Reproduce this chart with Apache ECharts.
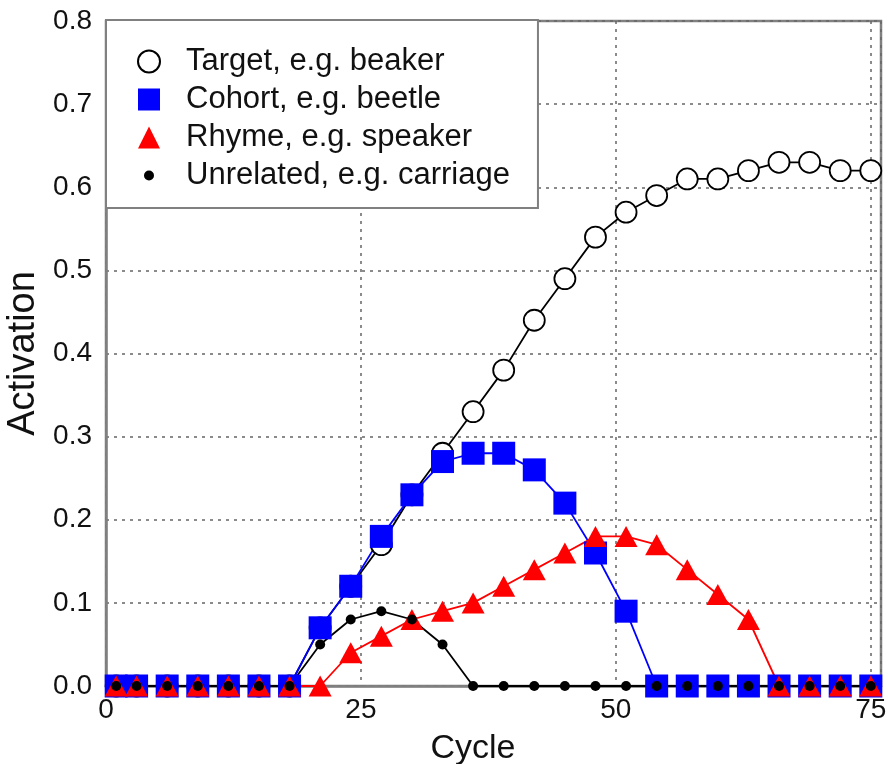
<!DOCTYPE html>
<html>
<head>
<meta charset="utf-8">
<script src="https://cdn.jsdelivr.net/npm/echarts@6/dist/echarts.min.js"></script>
<style>
html,body{margin:0;padding:0;background:#fff;}
#c{width:888px;height:764px;}
</style>
</head>
<body>
<div id="c"></div>
<script>
const cycles = [1,3,6,9,12,15,18,21,24,27,30,33,36,39,42,45,48,51,54,57,60,63,66,69,72,75];
const target = [0,0,0,0,0,0,0,0.07,0.12,0.17,0.23,0.28,0.33,0.38,0.44,0.49,0.54,0.57,0.59,0.61,0.61,0.62,0.63,0.63,0.62,0.62];
const cohort = [0,0,0,0,0,0,0,0.07,0.12,0.18,0.23,0.27,0.28,0.28,0.26,0.22,0.16,0.09,0,0,0,0,0,0,0,0];
const rhyme = [0,0,0,0,0,0,0,0,0.04,0.06,0.08,0.09,0.10,0.12,0.14,0.16,0.18,0.18,0.17,0.14,0.11,0.08,0,0,0,0];
const unrelated = [0,0,0,0,0,0,0,0.05,0.08,0.09,0.08,0.05,0,0,0,0,0,0,0,0,0,0,0,0,0,0];
const seriesNames = ['Target, e.g. beaker','Cohort, e.g. beetle','Rhyme, e.g. speaker','Unrelated, e.g. carriage'];
const xTicks = [0,25,50,75];
const yTicks = [0,0.1,0.2,0.3,0.4,0.5,0.6,0.7,0.8];

const pairs = arr => cycles.map((c,i)=>[c, arr[i]]);
const FONT = "'Liberation Sans', Arial, Helvetica, sans-serif";
const chart = echarts.init(document.getElementById('c'), null, {renderer:'canvas'});
const gridLine = {show:true, lineStyle:{color:'#666', width:1.5, type:[3,5]}};

chart.setOption({
  animation:false,
  backgroundColor:'#fff',
  grid:{left:106, right:7, top:21, bottom:78, show:true, borderColor:'#808080', borderWidth:2.5, backgroundColor:'transparent', outerBoundsMode:'none', containLabel:false},
  xAxis:{
    type:'value', min:0, max:76, interval:25,
    name:'Cycle', nameLocation:'middle', nameGap:46,
    nameTextStyle:{fontFamily:FONT, fontSize:34, color:'#111', padding:[0,41,0,0]},
    axisLine:{show:true, lineStyle:{color:'#808080', width:2.5}},
    axisTick:{show:false},
    axisLabel:{fontFamily:FONT, fontSize:28, color:'#111', margin:10,
      formatter:v=>xTicks.includes(v)?String(v):''},
    splitLine:gridLine
  },
  yAxis:{
    type:'value', min:0, max:0.8, interval:0.1,
    name:'Activation', nameLocation:'middle', nameGap:55,
    nameTextStyle:{fontFamily:FONT, fontSize:38, color:'#111'},
    axisLine:{show:true, lineStyle:{color:'#808080', width:2.5}},
    axisTick:{show:false},
    axisLabel:{fontFamily:FONT, fontSize:28, color:'#111', margin:14,
      formatter:v=>{const t=yTicks.find(y=>Math.abs(y-v)<1e-9);return t===undefined?'':t.toFixed(1);}},
    splitLine:gridLine
  },
  legend:{
    orient:'vertical', left:106, top:20,
    backgroundColor:'#fff', borderColor:'#808080', borderWidth:2,
    padding:[26,28,17,31], itemGap:7, itemWidth:22, itemHeight:22,
    textStyle:{fontFamily:FONT, fontSize:31, color:'#111', padding:[0,0,0,21], lineHeight:31},
    data:[
      {name:seriesNames[0], icon:'circle', itemStyle:{color:'#fff', borderColor:'#000', borderWidth:2}},
      {name:seriesNames[1], icon:'rect', itemStyle:{color:'#0000ff', borderWidth:0}},
      {name:seriesNames[2], icon:'triangle', itemStyle:{color:'#ff0000', borderWidth:0}},
      {name:seriesNames[3], icon:'path://M0,0M22,22M6,11A5,5 0 1,1 16,11A5,5 0 1,1 6,11Z', itemStyle:{color:'#000', borderWidth:0}}
    ]
  },
  series:[
    {name:seriesNames[0], type:'line', data:pairs(target), symbol:'circle', symbolSize:21,
      itemStyle:{color:'#fff', borderColor:'#000', borderWidth:1.8},
      lineStyle:{color:'#000', width:1.8}},
    {name:seriesNames[1], type:'line', data:pairs(cohort), symbol:'rect', symbolSize:23,
      itemStyle:{color:'#0000ff', borderWidth:0},
      lineStyle:{color:'#0000ff', width:1.8}},
    {name:seriesNames[2], type:'line', data:pairs(rhyme), symbol:'triangle', symbolSize:[23,21],
      itemStyle:{color:'#ff0000', borderWidth:0},
      lineStyle:{color:'#ff0000', width:1.8}},
    {name:seriesNames[3], type:'line', data:pairs(unrelated), symbol:'circle', symbolSize:10,
      itemStyle:{color:'#000', borderWidth:0},
      lineStyle:{color:'#000', width:1.8}}
  ]
});
</script>
</body>
</html>
